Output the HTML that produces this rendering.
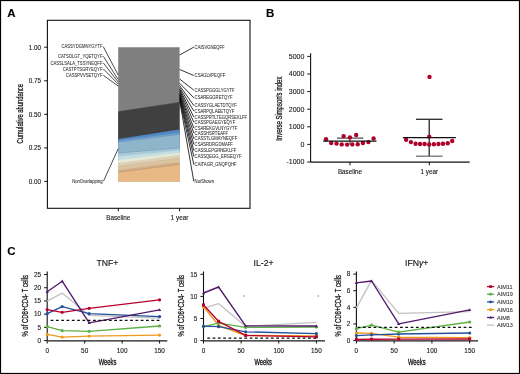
<!DOCTYPE html>
<html><head><meta charset="utf-8"><style>
html,body{margin:0;padding:0;background:#fff;}
svg{display:block;will-change:transform;font-family:"Liberation Sans",sans-serif;}
</style></head><body>
<svg width="520" height="374" viewBox="0 0 520 374">
<rect x="0.5" y="0.5" width="519" height="373" fill="#fff" stroke="#000" stroke-width="1.2"/>
<text x="7.20" y="17.00" font-size="11.5" text-anchor="start" fill="#000" font-weight="bold" stroke="#000" stroke-width="0.12" >A</text>
<text x="266.00" y="17.00" font-size="11.5" text-anchor="start" fill="#000" font-weight="bold" stroke="#000" stroke-width="0.12" >B</text>
<text x="7.30" y="255.30" font-size="11.5" text-anchor="start" fill="#000" font-weight="bold" stroke="#000" stroke-width="0.12" >C</text>
<rect x="47.4" y="20.3" width="202.6" height="188.0" fill="none" stroke="#111" stroke-width="1.1"/>
<line x1="44.20" y1="47.20" x2="47.40" y2="47.20" stroke="#111" stroke-width="1" />
<text x="41.00" y="49.70" font-size="6.3" text-anchor="end" fill="#1a1a1a" font-weight="normal" stroke="#1a1a1a" stroke-width="0.12" >1.00</text>
<line x1="44.20" y1="80.80" x2="47.40" y2="80.80" stroke="#111" stroke-width="1" />
<text x="41.00" y="83.30" font-size="6.3" text-anchor="end" fill="#1a1a1a" font-weight="normal" stroke="#1a1a1a" stroke-width="0.12" >0.75</text>
<line x1="44.20" y1="114.30" x2="47.40" y2="114.30" stroke="#111" stroke-width="1" />
<text x="41.00" y="116.80" font-size="6.3" text-anchor="end" fill="#1a1a1a" font-weight="normal" stroke="#1a1a1a" stroke-width="0.12" >0.50</text>
<line x1="44.20" y1="147.90" x2="47.40" y2="147.90" stroke="#111" stroke-width="1" />
<text x="41.00" y="150.40" font-size="6.3" text-anchor="end" fill="#1a1a1a" font-weight="normal" stroke="#1a1a1a" stroke-width="0.12" >0.25</text>
<line x1="44.20" y1="181.40" x2="47.40" y2="181.40" stroke="#111" stroke-width="1" />
<text x="41.00" y="183.90" font-size="6.3" text-anchor="end" fill="#1a1a1a" font-weight="normal" stroke="#1a1a1a" stroke-width="0.12" >0.00</text>
<text transform="translate(23.20,113.70) rotate(-90)" x="0" y="0" font-size="8.9" text-anchor="middle" fill="#1a1a1a" stroke="#1a1a1a" stroke-width="0.3" textLength="59.4" lengthAdjust="spacingAndGlyphs">Cumulative abundance</text>
<line x1="118.30" y1="208.30" x2="118.30" y2="211.30" stroke="#111" stroke-width="1" />
<text x="118.30" y="220.30" font-size="6.3" text-anchor="middle" fill="#1a1a1a" font-weight="normal" stroke="#1a1a1a" stroke-width="0.12" >Baseline</text>
<line x1="179.60" y1="208.30" x2="179.60" y2="211.30" stroke="#111" stroke-width="1" />
<text x="179.60" y="220.30" font-size="6.3" text-anchor="middle" fill="#1a1a1a" font-weight="normal" stroke="#1a1a1a" stroke-width="0.12" >1 year</text>
<polygon points="118.2,47.2 179.6,47.2 179.6,181.4 118.2,181.4" fill="#7f7f7f"/>
<polygon points="118.2,111.8 179.6,102.4 179.6,181.4 118.2,181.4" fill="#404040"/>
<polygon points="118.2,138.6 179.6,128.9 179.6,181.4 118.2,181.4" fill="#5088c4"/>
<polygon points="118.2,140.6 179.6,132.6 179.6,181.4 118.2,181.4" fill="#6e9cc6"/>
<polygon points="118.2,142.4 179.6,134.8 179.6,181.4 118.2,181.4" fill="#8eb5c9"/>
<polygon points="118.2,153.0 179.6,148.0 179.6,181.4 118.2,181.4" fill="#a9cbd9"/>
<polygon points="118.2,156.5 179.6,150.5 179.6,181.4 118.2,181.4" fill="#c3dde0"/>
<polygon points="118.2,160.0 179.6,152.8 179.6,181.4 118.2,181.4" fill="#e4ead6"/>
<polygon points="118.2,163.0 179.6,155.0 179.6,181.4 118.2,181.4" fill="#ddd0b4"/>
<polygon points="118.2,166.5 179.6,158.0 179.6,181.4 118.2,181.4" fill="#dcc39f"/>
<polygon points="118.2,170.0 179.6,162.0 179.6,181.4 118.2,181.4" fill="#cfae88"/>
<polygon points="118.2,172.3 179.6,164.3 179.6,181.4 118.2,181.4" fill="#e8b984"/>
<line x1="118.20" y1="111.80" x2="179.60" y2="102.40" stroke="#3a3a3a" stroke-width="0.6" />
<line x1="118.20" y1="138.60" x2="179.60" y2="128.90" stroke="#3b3029" stroke-width="0.7" />
<line x1="118.20" y1="153.00" x2="179.60" y2="148.00" stroke="#7aa0ba" stroke-width="0.7" />
<line x1="118.20" y1="166.50" x2="179.60" y2="158.00" stroke="#c8b596" stroke-width="0.5" />
<line x1="118.20" y1="172.30" x2="179.60" y2="164.30" stroke="#b8906c" stroke-width="0.6" />
<text x="102.50" y="48.30" font-size="4.5" text-anchor="end" fill="#2a2a2a" font-weight="normal" textLength="41.07" lengthAdjust="spacingAndGlyphs" stroke="#2a2a2a" stroke-width="0.05" >CASSYDGMNYGYTF</text>
<line x1="103.30" y1="46.70" x2="118.20" y2="75.00" stroke="#111" stroke-width="0.75" />
<text x="102.50" y="57.90" font-size="4.5" text-anchor="end" fill="#2a2a2a" font-weight="normal" textLength="44.5" lengthAdjust="spacingAndGlyphs" stroke="#2a2a2a" stroke-width="0.05" >CATSDLGT_YQETQYF</text>
<line x1="103.30" y1="56.30" x2="118.20" y2="79.50" stroke="#111" stroke-width="0.75" />
<text x="102.50" y="64.50" font-size="4.5" text-anchor="end" fill="#2a2a2a" font-weight="normal" textLength="52.05" lengthAdjust="spacingAndGlyphs" stroke="#2a2a2a" stroke-width="0.05" >CASSLSALA_TSSYNEQFF</text>
<line x1="103.30" y1="62.90" x2="118.20" y2="82.00" stroke="#111" stroke-width="0.75" />
<text x="102.50" y="70.50" font-size="4.5" text-anchor="end" fill="#2a2a2a" font-weight="normal" textLength="39.83" lengthAdjust="spacingAndGlyphs" stroke="#2a2a2a" stroke-width="0.05" >CASTPTSGRYEQYF</text>
<line x1="103.30" y1="68.90" x2="118.20" y2="84.00" stroke="#111" stroke-width="0.75" />
<text x="102.50" y="76.90" font-size="4.5" text-anchor="end" fill="#2a2a2a" font-weight="normal" textLength="36.64" lengthAdjust="spacingAndGlyphs" stroke="#2a2a2a" stroke-width="0.05" >CASSPVVSETQYF</text>
<line x1="103.30" y1="75.30" x2="118.20" y2="86.00" stroke="#111" stroke-width="0.75" />
<text x="102.50" y="183.00" font-size="4.5" text-anchor="end" fill="#2a2a2a" font-weight="normal" textLength="30.35" lengthAdjust="spacingAndGlyphs" stroke="#2a2a2a" stroke-width="0.05" >NonOverlapping</text>
<line x1="103.50" y1="181.20" x2="118.20" y2="148.70" stroke="#111" stroke-width="0.75" />
<text x="194.60" y="48.70" font-size="4.5" text-anchor="start" fill="#2a2a2a" font-weight="normal" textLength="30.1" lengthAdjust="spacingAndGlyphs" stroke="#2a2a2a" stroke-width="0.05" >CAISVGNEQFF</text>
<line x1="179.60" y1="55.00" x2="193.80" y2="47.10" stroke="#000" stroke-width="0.8" />
<text x="194.60" y="77.10" font-size="4.5" text-anchor="start" fill="#2a2a2a" font-weight="normal" textLength="30.73" lengthAdjust="spacingAndGlyphs" stroke="#2a2a2a" stroke-width="0.05" >CSAGLVPEQFF</text>
<line x1="179.60" y1="69.50" x2="193.80" y2="75.50" stroke="#000" stroke-width="0.8" />
<text x="194.60" y="91.70" font-size="4.5" text-anchor="start" fill="#2a2a2a" font-weight="normal" textLength="40.06" lengthAdjust="spacingAndGlyphs" stroke="#2a2a2a" stroke-width="0.05" >CASSPGGGLYGYTF</text>
<line x1="179.60" y1="79.00" x2="193.80" y2="90.10" stroke="#000" stroke-width="0.8" />
<text x="194.60" y="99.40" font-size="4.5" text-anchor="start" fill="#2a2a2a" font-weight="normal" textLength="38.04" lengthAdjust="spacingAndGlyphs" stroke="#2a2a2a" stroke-width="0.05" >CSAREGGRETQYF</text>
<line x1="179.60" y1="83.20" x2="193.80" y2="97.80" stroke="#000" stroke-width="0.8" />
<text x="194.60" y="107.10" font-size="4.5" text-anchor="start" fill="#2a2a2a" font-weight="normal" textLength="42.24" lengthAdjust="spacingAndGlyphs" stroke="#2a2a2a" stroke-width="0.05" >CASSYGLAETDTQYF</text>
<line x1="179.60" y1="85.50" x2="193.80" y2="105.50" stroke="#000" stroke-width="0.8" />
<text x="194.60" y="112.60" font-size="4.5" text-anchor="start" fill="#2a2a2a" font-weight="normal" textLength="39.68" lengthAdjust="spacingAndGlyphs" stroke="#2a2a2a" stroke-width="0.05" >CSARPQLAEETQYF</text>
<line x1="179.60" y1="87.30" x2="193.80" y2="111.00" stroke="#000" stroke-width="0.8" />
<text x="194.60" y="118.60" font-size="4.5" text-anchor="start" fill="#2a2a2a" font-weight="normal" textLength="52.59" lengthAdjust="spacingAndGlyphs" stroke="#2a2a2a" stroke-width="0.05" >CASSPRTLTEGQRSEKLFF</text>
<line x1="179.60" y1="88.80" x2="193.80" y2="117.00" stroke="#000" stroke-width="0.8" />
<text x="194.60" y="123.80" font-size="4.5" text-anchor="start" fill="#2a2a2a" font-weight="normal" textLength="40.61" lengthAdjust="spacingAndGlyphs" stroke="#2a2a2a" stroke-width="0.05" >CASSPGAEGYEQYF</text>
<line x1="179.60" y1="90.20" x2="193.80" y2="122.20" stroke="#000" stroke-width="0.8" />
<text x="194.60" y="129.60" font-size="4.5" text-anchor="start" fill="#2a2a2a" font-weight="normal" textLength="42.71" lengthAdjust="spacingAndGlyphs" stroke="#2a2a2a" stroke-width="0.05" >CSAREKGVLNYGYTF</text>
<line x1="179.60" y1="91.50" x2="193.80" y2="128.00" stroke="#000" stroke-width="0.8" />
<text x="194.60" y="134.60" font-size="4.5" text-anchor="start" fill="#2a2a2a" font-weight="normal" textLength="33.53" lengthAdjust="spacingAndGlyphs" stroke="#2a2a2a" stroke-width="0.05" >CASSHSRTEAFF</text>
<line x1="179.60" y1="92.80" x2="193.80" y2="133.00" stroke="#000" stroke-width="0.8" />
<text x="194.60" y="140.40" font-size="4.5" text-anchor="start" fill="#2a2a2a" font-weight="normal" textLength="42.63" lengthAdjust="spacingAndGlyphs" stroke="#2a2a2a" stroke-width="0.05" >CASSTLGMAYNEQFF</text>
<line x1="179.60" y1="94.00" x2="193.80" y2="138.80" stroke="#000" stroke-width="0.8" />
<text x="194.60" y="146.00" font-size="4.5" text-anchor="start" fill="#2a2a2a" font-weight="normal" textLength="38.27" lengthAdjust="spacingAndGlyphs" stroke="#2a2a2a" stroke-width="0.05" >CSASRDRGDMAFF</text>
<line x1="179.60" y1="95.20" x2="193.80" y2="144.40" stroke="#000" stroke-width="0.8" />
<text x="194.60" y="152.10" font-size="4.5" text-anchor="start" fill="#2a2a2a" font-weight="normal" textLength="41.78" lengthAdjust="spacingAndGlyphs" stroke="#2a2a2a" stroke-width="0.05" >CASSLEPGRNEKLFF</text>
<line x1="179.60" y1="96.40" x2="193.80" y2="150.50" stroke="#000" stroke-width="0.8" />
<text x="194.60" y="158.00" font-size="4.5" text-anchor="start" fill="#2a2a2a" font-weight="normal" textLength="46.91" lengthAdjust="spacingAndGlyphs" stroke="#2a2a2a" stroke-width="0.05" >CASSQEGG_ERGEQYF</text>
<line x1="179.60" y1="97.60" x2="193.80" y2="156.40" stroke="#000" stroke-width="0.8" />
<text x="194.60" y="166.10" font-size="4.5" text-anchor="start" fill="#2a2a2a" font-weight="normal" textLength="41.93" lengthAdjust="spacingAndGlyphs" stroke="#2a2a2a" stroke-width="0.05" >CAITAGR_GNQPQHF</text>
<line x1="179.60" y1="99.00" x2="193.80" y2="164.50" stroke="#000" stroke-width="0.8" />
<text x="194.60" y="182.90" font-size="4.5" text-anchor="start" fill="#2a2a2a" font-weight="normal" textLength="19.38" lengthAdjust="spacingAndGlyphs" stroke="#2a2a2a" stroke-width="0.05" >NotShown</text>
<line x1="179.60" y1="100.50" x2="193.80" y2="181.30" stroke="#000" stroke-width="0.8" />
<line x1="310.60" y1="53.30" x2="310.60" y2="162.10" stroke="#111" stroke-width="1.1" />
<line x1="310.60" y1="162.10" x2="469.70" y2="162.10" stroke="#111" stroke-width="1.1" />
<line x1="307.30" y1="56.40" x2="310.60" y2="56.40" stroke="#111" stroke-width="1" />
<text x="304.40" y="58.80" font-size="7.0" text-anchor="end" fill="#1a1a1a" font-weight="normal" stroke="#1a1a1a" stroke-width="0.12" >5000</text>
<line x1="307.30" y1="74.00" x2="310.60" y2="74.00" stroke="#111" stroke-width="1" />
<text x="304.40" y="76.40" font-size="7.0" text-anchor="end" fill="#1a1a1a" font-weight="normal" stroke="#1a1a1a" stroke-width="0.12" >4000</text>
<line x1="307.30" y1="91.60" x2="310.60" y2="91.60" stroke="#111" stroke-width="1" />
<text x="304.40" y="94.00" font-size="7.0" text-anchor="end" fill="#1a1a1a" font-weight="normal" stroke="#1a1a1a" stroke-width="0.12" >3000</text>
<line x1="307.30" y1="109.20" x2="310.60" y2="109.20" stroke="#111" stroke-width="1" />
<text x="304.40" y="111.60" font-size="7.0" text-anchor="end" fill="#1a1a1a" font-weight="normal" stroke="#1a1a1a" stroke-width="0.12" >2000</text>
<line x1="307.30" y1="126.80" x2="310.60" y2="126.80" stroke="#111" stroke-width="1" />
<text x="304.40" y="129.20" font-size="7.0" text-anchor="end" fill="#1a1a1a" font-weight="normal" stroke="#1a1a1a" stroke-width="0.12" >1000</text>
<line x1="307.30" y1="144.40" x2="310.60" y2="144.40" stroke="#111" stroke-width="1" />
<text x="304.40" y="146.80" font-size="7.0" text-anchor="end" fill="#1a1a1a" font-weight="normal" stroke="#1a1a1a" stroke-width="0.12" >0</text>
<line x1="307.30" y1="162.00" x2="310.60" y2="162.00" stroke="#111" stroke-width="1" />
<text x="304.40" y="164.40" font-size="7.0" text-anchor="end" fill="#1a1a1a" font-weight="normal" stroke="#1a1a1a" stroke-width="0.12" >-1000</text>
<text transform="translate(282.30,108.65) rotate(-90)" x="0" y="0" font-size="9.0" text-anchor="middle" fill="#1a1a1a" stroke="#1a1a1a" stroke-width="0.3" textLength="64.0" lengthAdjust="spacingAndGlyphs">Inverse Simpson's index</text>
<line x1="350.00" y1="162.10" x2="350.00" y2="165.40" stroke="#111" stroke-width="1" />
<text x="350.00" y="173.90" font-size="6.3" text-anchor="middle" fill="#1a1a1a" font-weight="normal" stroke="#1a1a1a" stroke-width="0.12" >Baseline</text>
<line x1="429.30" y1="162.10" x2="429.30" y2="165.40" stroke="#111" stroke-width="1" />
<text x="429.30" y="173.90" font-size="6.3" text-anchor="middle" fill="#1a1a1a" font-weight="normal" stroke="#1a1a1a" stroke-width="0.12" >1 year</text>
<line x1="337.00" y1="138.10" x2="363.30" y2="138.10" stroke="#555" stroke-width="1.3" />
<line x1="349.90" y1="138.10" x2="349.90" y2="144.50" stroke="#333" stroke-width="1" />
<circle cx="326" cy="139.2" r="2.2" fill="#ae0029"/>
<circle cx="331.2" cy="143" r="2.2" fill="#ae0029"/>
<circle cx="336.5" cy="143.6" r="2.2" fill="#ae0029"/>
<circle cx="341.7" cy="144.4" r="2.2" fill="#ae0029"/>
<circle cx="347.1" cy="144.6" r="2.2" fill="#ae0029"/>
<circle cx="352.3" cy="144.4" r="2.2" fill="#ae0029"/>
<circle cx="357.7" cy="144.2" r="2.2" fill="#ae0029"/>
<circle cx="362.9" cy="143" r="2.2" fill="#ae0029"/>
<circle cx="368.4" cy="142.1" r="2.2" fill="#ae0029"/>
<circle cx="373.6" cy="138.4" r="2.2" fill="#ae0029"/>
<circle cx="343.6" cy="136.1" r="2.2" fill="#ae0029"/>
<circle cx="356.2" cy="135.0" r="2.2" fill="#ae0029"/>
<circle cx="349.9" cy="137.4" r="2.2" fill="#ae0029"/>
<line x1="323.20" y1="141.20" x2="376.50" y2="141.20" stroke="#111" stroke-width="1.2" />
<line x1="429.20" y1="119.30" x2="429.20" y2="156.20" stroke="#151515" stroke-width="1.2" />
<line x1="416.00" y1="119.30" x2="442.50" y2="119.30" stroke="#2a2a2a" stroke-width="1.3" />
<line x1="416.00" y1="156.20" x2="442.50" y2="156.20" stroke="#666" stroke-width="1.2" />
<circle cx="406.1" cy="139.7" r="2.2" fill="#ae0029"/>
<circle cx="410.9" cy="142.1" r="2.2" fill="#ae0029"/>
<circle cx="415.6" cy="143.7" r="2.2" fill="#ae0029"/>
<circle cx="420.1" cy="144.0" r="2.2" fill="#ae0029"/>
<circle cx="424.6" cy="144.0" r="2.2" fill="#ae0029"/>
<circle cx="429.2" cy="144.5" r="2.2" fill="#ae0029"/>
<circle cx="433.9" cy="144.2" r="2.2" fill="#ae0029"/>
<circle cx="438.5" cy="144.0" r="2.2" fill="#ae0029"/>
<circle cx="443.0" cy="143.7" r="2.2" fill="#ae0029"/>
<circle cx="447.7" cy="143.2" r="2.2" fill="#ae0029"/>
<circle cx="452.2" cy="141.0" r="2.2" fill="#ae0029"/>
<circle cx="429.5" cy="76.9" r="2.2" fill="#ae0029"/>
<circle cx="429.2" cy="136.6" r="2.2" fill="#ae0029"/>
<line x1="402.90" y1="137.60" x2="455.90" y2="137.60" stroke="#111" stroke-width="1.2" />
<line x1="47.20" y1="271.50" x2="47.20" y2="340.60" stroke="#111" stroke-width="1.1" />
<line x1="47.20" y1="340.80" x2="167.30" y2="340.80" stroke="#1a1a1a" stroke-width="1.3" />
<line x1="44.10" y1="340.60" x2="47.20" y2="340.60" stroke="#111" stroke-width="1" />
<text x="41.10" y="342.90" font-size="6.4" text-anchor="end" fill="#1a1a1a" font-weight="normal" stroke="#1a1a1a" stroke-width="0.12" >0</text>
<line x1="44.10" y1="327.39" x2="47.20" y2="327.39" stroke="#111" stroke-width="1" />
<text x="41.10" y="329.69" font-size="6.4" text-anchor="end" fill="#1a1a1a" font-weight="normal" stroke="#1a1a1a" stroke-width="0.12" >5</text>
<line x1="44.10" y1="314.18" x2="47.20" y2="314.18" stroke="#111" stroke-width="1" />
<text x="41.10" y="316.48" font-size="6.4" text-anchor="end" fill="#1a1a1a" font-weight="normal" stroke="#1a1a1a" stroke-width="0.12" >10</text>
<line x1="44.10" y1="300.97" x2="47.20" y2="300.97" stroke="#111" stroke-width="1" />
<text x="41.10" y="303.27" font-size="6.4" text-anchor="end" fill="#1a1a1a" font-weight="normal" stroke="#1a1a1a" stroke-width="0.12" >15</text>
<line x1="44.10" y1="287.76" x2="47.20" y2="287.76" stroke="#111" stroke-width="1" />
<text x="41.10" y="290.06" font-size="6.4" text-anchor="end" fill="#1a1a1a" font-weight="normal" stroke="#1a1a1a" stroke-width="0.12" >20</text>
<line x1="44.10" y1="274.55" x2="47.20" y2="274.55" stroke="#111" stroke-width="1" />
<text x="41.10" y="276.85" font-size="6.4" text-anchor="end" fill="#1a1a1a" font-weight="normal" stroke="#1a1a1a" stroke-width="0.12" >25</text>
<line x1="47.20" y1="340.60" x2="47.20" y2="343.50" stroke="#111" stroke-width="1" />
<text x="47.20" y="352.80" font-size="6.4" text-anchor="middle" fill="#1a1a1a" font-weight="normal" stroke="#1a1a1a" stroke-width="0.12" >0</text>
<line x1="84.66" y1="340.60" x2="84.66" y2="343.50" stroke="#111" stroke-width="1" />
<text x="84.66" y="352.80" font-size="6.4" text-anchor="middle" fill="#1a1a1a" font-weight="normal" stroke="#1a1a1a" stroke-width="0.12" >50</text>
<line x1="122.13" y1="340.60" x2="122.13" y2="343.50" stroke="#111" stroke-width="1" />
<text x="122.13" y="352.80" font-size="6.4" text-anchor="middle" fill="#1a1a1a" font-weight="normal" stroke="#1a1a1a" stroke-width="0.12" >100</text>
<line x1="159.59" y1="340.60" x2="159.59" y2="343.50" stroke="#111" stroke-width="1" />
<text x="159.59" y="352.80" font-size="6.4" text-anchor="middle" fill="#1a1a1a" font-weight="normal" stroke="#1a1a1a" stroke-width="0.12" >150</text>
<text x="107.40" y="265.60" font-size="8.7" text-anchor="middle" fill="#111" font-weight="normal" stroke="#111" stroke-width="0.12" >TNF+</text>
<text x="107.5" y="364.6" font-size="8.5" text-anchor="middle" fill="#111" stroke="#111" stroke-width="0.3" textLength="17.6" lengthAdjust="spacingAndGlyphs">Weeks</text>
<text transform="translate(28.20,305.80) rotate(-90)" x="0" y="0" font-size="8.5" text-anchor="middle" fill="#1a1a1a" stroke="#1a1a1a" stroke-width="0.3" textLength="61.6" lengthAdjust="spacingAndGlyphs">% of CD8+CD4- T cells</text>
<polyline points="47.20,301.20 62.19,293.10 89.16,315.40 159.59,318.20" fill="none" stroke="#c2c2c2" stroke-width="1.35" stroke-linejoin="round"/>
<polyline points="47.20,334.40 62.19,337.10 89.16,336.10 159.59,335.10" fill="none" stroke="#ef9a1e" stroke-width="1.35" stroke-linejoin="round"/>
<circle cx="47.20" cy="334.40" r="1.60" fill="#ef9a1e"/>
<circle cx="62.19" cy="337.10" r="1.60" fill="#ef9a1e"/>
<circle cx="89.16" cy="336.10" r="1.60" fill="#ef9a1e"/>
<circle cx="159.59" cy="335.10" r="1.60" fill="#ef9a1e"/>
<polyline points="47.20,326.60 62.19,330.70 89.16,331.30 159.59,326.00" fill="none" stroke="#5db043" stroke-width="1.35" stroke-linejoin="round"/>
<circle cx="47.20" cy="326.60" r="1.60" fill="#5db043"/>
<circle cx="62.19" cy="330.70" r="1.60" fill="#5db043"/>
<circle cx="89.16" cy="331.30" r="1.60" fill="#5db043"/>
<circle cx="159.59" cy="326.00" r="1.60" fill="#5db043"/>
<polyline points="47.20,313.70 62.19,306.60 89.16,313.70 159.59,316.60" fill="none" stroke="#25509a" stroke-width="1.35" stroke-linejoin="round"/>
<circle cx="47.20" cy="313.70" r="1.60" fill="#25509a"/>
<circle cx="62.19" cy="306.60" r="1.60" fill="#25509a"/>
<circle cx="89.16" cy="313.70" r="1.60" fill="#25509a"/>
<circle cx="159.59" cy="316.60" r="1.60" fill="#25509a"/>
<polyline points="47.20,309.60 62.19,312.30 89.16,308.30 159.59,299.80" fill="none" stroke="#b8002e" stroke-width="1.35" stroke-linejoin="round"/>
<circle cx="47.20" cy="309.60" r="1.60" fill="#b8002e"/>
<circle cx="62.19" cy="312.30" r="1.60" fill="#b8002e"/>
<circle cx="89.16" cy="308.30" r="1.60" fill="#b8002e"/>
<circle cx="159.59" cy="299.80" r="1.60" fill="#b8002e"/>
<polyline points="47.20,291.70 62.19,281.20 89.16,322.90 159.59,309.90" fill="none" stroke="#511a6c" stroke-width="1.35" stroke-linejoin="round"/>
<polygon points="47.20,290.10 48.80,292.90 45.60,292.90" fill="#511a6c"/>
<polygon points="62.19,279.60 63.79,282.40 60.59,282.40" fill="#511a6c"/>
<polygon points="89.16,321.30 90.76,324.10 87.56,324.10" fill="#511a6c"/>
<polygon points="159.59,308.30 161.19,311.10 158.00,311.10" fill="#511a6c"/>
<line x1="50.60" y1="320.40" x2="160.40" y2="320.40" stroke="#111" stroke-width="1.3" stroke-dasharray="2.8,2.5"/>
<line x1="203.50" y1="271.50" x2="203.50" y2="340.60" stroke="#111" stroke-width="1.1" />
<line x1="203.50" y1="340.80" x2="325.00" y2="340.80" stroke="#1a1a1a" stroke-width="1.3" />
<line x1="200.40" y1="340.60" x2="203.50" y2="340.60" stroke="#111" stroke-width="1" />
<text x="197.40" y="342.90" font-size="6.4" text-anchor="end" fill="#1a1a1a" font-weight="normal" stroke="#1a1a1a" stroke-width="0.12" >0</text>
<line x1="200.40" y1="318.50" x2="203.50" y2="318.50" stroke="#111" stroke-width="1" />
<text x="197.40" y="320.80" font-size="6.4" text-anchor="end" fill="#1a1a1a" font-weight="normal" stroke="#1a1a1a" stroke-width="0.12" >5</text>
<line x1="200.40" y1="296.40" x2="203.50" y2="296.40" stroke="#111" stroke-width="1" />
<text x="197.40" y="298.70" font-size="6.4" text-anchor="end" fill="#1a1a1a" font-weight="normal" stroke="#1a1a1a" stroke-width="0.12" >10</text>
<line x1="200.40" y1="274.30" x2="203.50" y2="274.30" stroke="#111" stroke-width="1" />
<text x="197.40" y="276.60" font-size="6.4" text-anchor="end" fill="#1a1a1a" font-weight="normal" stroke="#1a1a1a" stroke-width="0.12" >15</text>
<line x1="203.50" y1="340.60" x2="203.50" y2="343.50" stroke="#111" stroke-width="1" />
<text x="203.50" y="352.80" font-size="6.4" text-anchor="middle" fill="#1a1a1a" font-weight="normal" stroke="#1a1a1a" stroke-width="0.12" >0</text>
<line x1="241.13" y1="340.60" x2="241.13" y2="343.50" stroke="#111" stroke-width="1" />
<text x="241.13" y="352.80" font-size="6.4" text-anchor="middle" fill="#1a1a1a" font-weight="normal" stroke="#1a1a1a" stroke-width="0.12" >50</text>
<line x1="278.77" y1="340.60" x2="278.77" y2="343.50" stroke="#111" stroke-width="1" />
<text x="278.77" y="352.80" font-size="6.4" text-anchor="middle" fill="#1a1a1a" font-weight="normal" stroke="#1a1a1a" stroke-width="0.12" >100</text>
<line x1="316.40" y1="340.60" x2="316.40" y2="343.50" stroke="#111" stroke-width="1" />
<text x="316.40" y="352.80" font-size="6.4" text-anchor="middle" fill="#1a1a1a" font-weight="normal" stroke="#1a1a1a" stroke-width="0.12" >150</text>
<text x="263.60" y="265.60" font-size="8.7" text-anchor="middle" fill="#111" font-weight="normal" stroke="#111" stroke-width="0.12" >IL-2+</text>
<text x="263.2" y="364.6" font-size="8.5" text-anchor="middle" fill="#111" stroke="#111" stroke-width="0.3" textLength="17.6" lengthAdjust="spacingAndGlyphs">Weeks</text>
<text transform="translate(183.80,305.80) rotate(-90)" x="0" y="0" font-size="8.5" text-anchor="middle" fill="#1a1a1a" stroke="#1a1a1a" stroke-width="0.3" textLength="61.6" lengthAdjust="spacingAndGlyphs">% of CD8+CD4- T cells</text>
<polyline points="203.50,308.40 218.55,303.60 245.65,326.40 316.40,322.30" fill="none" stroke="#c2c2c2" stroke-width="1.35" stroke-linejoin="round"/>
<polyline points="203.50,306.80 218.55,325.30 245.65,335.50 316.40,335.80" fill="none" stroke="#ef9a1e" stroke-width="1.35" stroke-linejoin="round"/>
<circle cx="203.50" cy="306.80" r="1.60" fill="#ef9a1e"/>
<circle cx="218.55" cy="325.30" r="1.60" fill="#ef9a1e"/>
<circle cx="245.65" cy="335.50" r="1.60" fill="#ef9a1e"/>
<circle cx="316.40" cy="335.80" r="1.60" fill="#ef9a1e"/>
<polyline points="203.50,326.70 218.55,323.10 245.65,327.40 316.40,327.00" fill="none" stroke="#5db043" stroke-width="1.35" stroke-linejoin="round"/>
<circle cx="203.50" cy="326.70" r="1.60" fill="#5db043"/>
<circle cx="218.55" cy="323.10" r="1.60" fill="#5db043"/>
<circle cx="245.65" cy="327.40" r="1.60" fill="#5db043"/>
<circle cx="316.40" cy="327.00" r="1.60" fill="#5db043"/>
<polyline points="203.50,326.20 218.55,326.70 245.65,331.80 316.40,333.60" fill="none" stroke="#25509a" stroke-width="1.35" stroke-linejoin="round"/>
<circle cx="203.50" cy="326.20" r="1.60" fill="#25509a"/>
<circle cx="218.55" cy="326.70" r="1.60" fill="#25509a"/>
<circle cx="245.65" cy="331.80" r="1.60" fill="#25509a"/>
<circle cx="316.40" cy="333.60" r="1.60" fill="#25509a"/>
<polyline points="203.50,293.00 218.55,287.00 245.65,325.80 316.40,326.00" fill="none" stroke="#511a6c" stroke-width="1.35" stroke-linejoin="round"/>
<polygon points="203.50,291.40 205.10,294.20 201.90,294.20" fill="#511a6c"/>
<polygon points="218.55,285.40 220.15,288.20 216.95,288.20" fill="#511a6c"/>
<polygon points="245.65,324.20 247.25,327.00 244.05,327.00" fill="#511a6c"/>
<polygon points="316.40,324.40 318.00,327.20 314.80,327.20" fill="#511a6c"/>
<polyline points="203.50,305.00 218.55,321.30 245.65,335.40 316.40,336.80" fill="none" stroke="#b8002e" stroke-width="1.35" stroke-linejoin="round"/>
<rect x="202.00" y="303.50" width="3.00" height="3.00" fill="#b8002e"/>
<rect x="217.05" y="319.80" width="3.00" height="3.00" fill="#b8002e"/>
<rect x="244.15" y="333.90" width="3.00" height="3.00" fill="#b8002e"/>
<rect x="314.90" y="335.30" width="3.00" height="3.00" fill="#b8002e"/>
<line x1="207.30" y1="338.20" x2="317.50" y2="338.20" stroke="#111" stroke-width="1.3" stroke-dasharray="2.8,2.5"/>
<line x1="356.40" y1="271.50" x2="356.40" y2="340.60" stroke="#111" stroke-width="1.1" />
<line x1="356.40" y1="340.80" x2="478.00" y2="340.80" stroke="#1a1a1a" stroke-width="1.3" />
<line x1="353.30" y1="340.60" x2="356.40" y2="340.60" stroke="#111" stroke-width="1" />
<text x="350.30" y="342.90" font-size="6.4" text-anchor="end" fill="#1a1a1a" font-weight="normal" stroke="#1a1a1a" stroke-width="0.12" >0</text>
<line x1="353.30" y1="323.98" x2="356.40" y2="323.98" stroke="#111" stroke-width="1" />
<text x="350.30" y="326.28" font-size="6.4" text-anchor="end" fill="#1a1a1a" font-weight="normal" stroke="#1a1a1a" stroke-width="0.12" >2</text>
<line x1="353.30" y1="307.36" x2="356.40" y2="307.36" stroke="#111" stroke-width="1" />
<text x="350.30" y="309.66" font-size="6.4" text-anchor="end" fill="#1a1a1a" font-weight="normal" stroke="#1a1a1a" stroke-width="0.12" >4</text>
<line x1="353.30" y1="290.74" x2="356.40" y2="290.74" stroke="#111" stroke-width="1" />
<text x="350.30" y="293.04" font-size="6.4" text-anchor="end" fill="#1a1a1a" font-weight="normal" stroke="#1a1a1a" stroke-width="0.12" >6</text>
<line x1="353.30" y1="274.12" x2="356.40" y2="274.12" stroke="#111" stroke-width="1" />
<text x="350.30" y="276.42" font-size="6.4" text-anchor="end" fill="#1a1a1a" font-weight="normal" stroke="#1a1a1a" stroke-width="0.12" >8</text>
<line x1="356.40" y1="340.60" x2="356.40" y2="343.50" stroke="#111" stroke-width="1" />
<text x="356.40" y="352.80" font-size="6.4" text-anchor="middle" fill="#1a1a1a" font-weight="normal" stroke="#1a1a1a" stroke-width="0.12" >0</text>
<line x1="394.16" y1="340.60" x2="394.16" y2="343.50" stroke="#111" stroke-width="1" />
<text x="394.16" y="352.80" font-size="6.4" text-anchor="middle" fill="#1a1a1a" font-weight="normal" stroke="#1a1a1a" stroke-width="0.12" >50</text>
<line x1="431.93" y1="340.60" x2="431.93" y2="343.50" stroke="#111" stroke-width="1" />
<text x="431.93" y="352.80" font-size="6.4" text-anchor="middle" fill="#1a1a1a" font-weight="normal" stroke="#1a1a1a" stroke-width="0.12" >100</text>
<line x1="469.69" y1="340.60" x2="469.69" y2="343.50" stroke="#111" stroke-width="1" />
<text x="469.69" y="352.80" font-size="6.4" text-anchor="middle" fill="#1a1a1a" font-weight="normal" stroke="#1a1a1a" stroke-width="0.12" >150</text>
<text x="416.70" y="265.60" font-size="8.7" text-anchor="middle" fill="#111" font-weight="normal" stroke="#111" stroke-width="0.12" >IFN<tspan font-style="italic">γ</tspan>+</text>
<text x="416.8" y="364.6" font-size="8.5" text-anchor="middle" fill="#111" stroke="#111" stroke-width="0.3" textLength="17.6" lengthAdjust="spacingAndGlyphs">Weeks</text>
<text transform="translate(340.80,305.80) rotate(-90)" x="0" y="0" font-size="8.5" text-anchor="middle" fill="#1a1a1a" stroke="#1a1a1a" stroke-width="0.3" textLength="61.6" lengthAdjust="spacingAndGlyphs">% of CD8+CD4- T cells</text>
<polyline points="356.40,307.80 371.51,280.40 398.70,313.40 469.69,311.60" fill="none" stroke="#c2c2c2" stroke-width="1.35" stroke-linejoin="round"/>
<polyline points="356.40,333.00 371.51,333.30 398.70,337.20 469.69,337.60" fill="none" stroke="#ef9a1e" stroke-width="1.35" stroke-linejoin="round"/>
<circle cx="356.40" cy="333.00" r="1.60" fill="#ef9a1e"/>
<circle cx="371.51" cy="333.30" r="1.60" fill="#ef9a1e"/>
<circle cx="398.70" cy="337.20" r="1.60" fill="#ef9a1e"/>
<circle cx="469.69" cy="337.60" r="1.60" fill="#ef9a1e"/>
<polyline points="356.40,335.60 371.51,334.80 398.70,334.00 469.69,333.00" fill="none" stroke="#25509a" stroke-width="1.35" stroke-linejoin="round"/>
<circle cx="356.40" cy="335.60" r="1.60" fill="#25509a"/>
<circle cx="371.51" cy="334.80" r="1.60" fill="#25509a"/>
<circle cx="398.70" cy="334.00" r="1.60" fill="#25509a"/>
<circle cx="469.69" cy="333.00" r="1.60" fill="#25509a"/>
<polyline points="356.40,328.70 371.51,325.10 398.70,332.20 469.69,322.00" fill="none" stroke="#5db043" stroke-width="1.35" stroke-linejoin="round"/>
<circle cx="356.40" cy="328.70" r="1.60" fill="#5db043"/>
<circle cx="371.51" cy="325.10" r="1.60" fill="#5db043"/>
<circle cx="398.70" cy="332.20" r="1.60" fill="#5db043"/>
<circle cx="469.69" cy="322.00" r="1.60" fill="#5db043"/>
<polyline points="356.40,339.30 371.51,339.20 398.70,339.10 469.69,339.00" fill="none" stroke="#b8002e" stroke-width="1.35" stroke-linejoin="round"/>
<rect x="354.90" y="337.80" width="3.00" height="3.00" fill="#b8002e"/>
<rect x="370.01" y="337.70" width="3.00" height="3.00" fill="#b8002e"/>
<rect x="397.20" y="337.60" width="3.00" height="3.00" fill="#b8002e"/>
<rect x="468.19" y="337.50" width="3.00" height="3.00" fill="#b8002e"/>
<polyline points="356.40,282.80 371.51,281.00 398.70,323.80 469.69,309.90" fill="none" stroke="#511a6c" stroke-width="1.35" stroke-linejoin="round"/>
<polygon points="356.40,281.20 358.00,284.00 354.80,284.00" fill="#511a6c"/>
<polygon points="371.51,279.40 373.11,282.20 369.91,282.20" fill="#511a6c"/>
<polygon points="398.70,322.20 400.30,325.00 397.10,325.00" fill="#511a6c"/>
<polygon points="469.69,308.30 471.30,311.10 468.09,311.10" fill="#511a6c"/>
<line x1="357.60" y1="327.40" x2="472.00" y2="327.40" stroke="#111" stroke-width="1.3" stroke-dasharray="2.8,2.5"/>
<rect x="243.3" y="295.5" width="1" height="1" fill="#333"/>
<rect x="317.8" y="295.5" width="1" height="1" fill="#333"/>
<line x1="487.00" y1="286.60" x2="494.20" y2="286.60" stroke="#b8002e" stroke-width="1.3" />
<rect x="489.25" y="285.25" width="2.70" height="2.70" fill="#b8002e"/>
<text x="497.00" y="288.60" font-size="5.5" text-anchor="start" fill="#222" font-weight="normal" stroke="#222" stroke-width="0.04" >AIM11</text>
<line x1="487.00" y1="294.20" x2="494.20" y2="294.20" stroke="#5db043" stroke-width="1.3" />
<circle cx="490.60" cy="294.20" r="1.44" fill="#5db043"/>
<text x="497.00" y="296.20" font-size="5.5" text-anchor="start" fill="#222" font-weight="normal" stroke="#222" stroke-width="0.04" >AIM19</text>
<line x1="487.00" y1="301.90" x2="494.20" y2="301.90" stroke="#25509a" stroke-width="1.3" />
<circle cx="490.60" cy="301.90" r="1.44" fill="#25509a"/>
<text x="497.00" y="303.90" font-size="5.5" text-anchor="start" fill="#222" font-weight="normal" stroke="#222" stroke-width="0.04" >AIM10</text>
<line x1="487.00" y1="309.70" x2="494.20" y2="309.70" stroke="#ef9a1e" stroke-width="1.3" />
<circle cx="490.60" cy="309.70" r="1.44" fill="#ef9a1e"/>
<text x="497.00" y="311.70" font-size="5.5" text-anchor="start" fill="#222" font-weight="normal" stroke="#222" stroke-width="0.04" >AIM16</text>
<line x1="487.00" y1="317.50" x2="494.20" y2="317.50" stroke="#511a6c" stroke-width="1.3" />
<polygon points="490.60,316.06 492.04,318.58 489.16,318.58" fill="#511a6c"/>
<text x="497.00" y="319.50" font-size="5.5" text-anchor="start" fill="#222" font-weight="normal" stroke="#222" stroke-width="0.04" >AIM8</text>
<line x1="487.00" y1="325.10" x2="494.20" y2="325.10" stroke="#c2c2c2" stroke-width="1.3" />
<text x="497.00" y="327.10" font-size="5.5" text-anchor="start" fill="#222" font-weight="normal" stroke="#222" stroke-width="0.04" >AIM13</text>
</svg>
</body></html>
